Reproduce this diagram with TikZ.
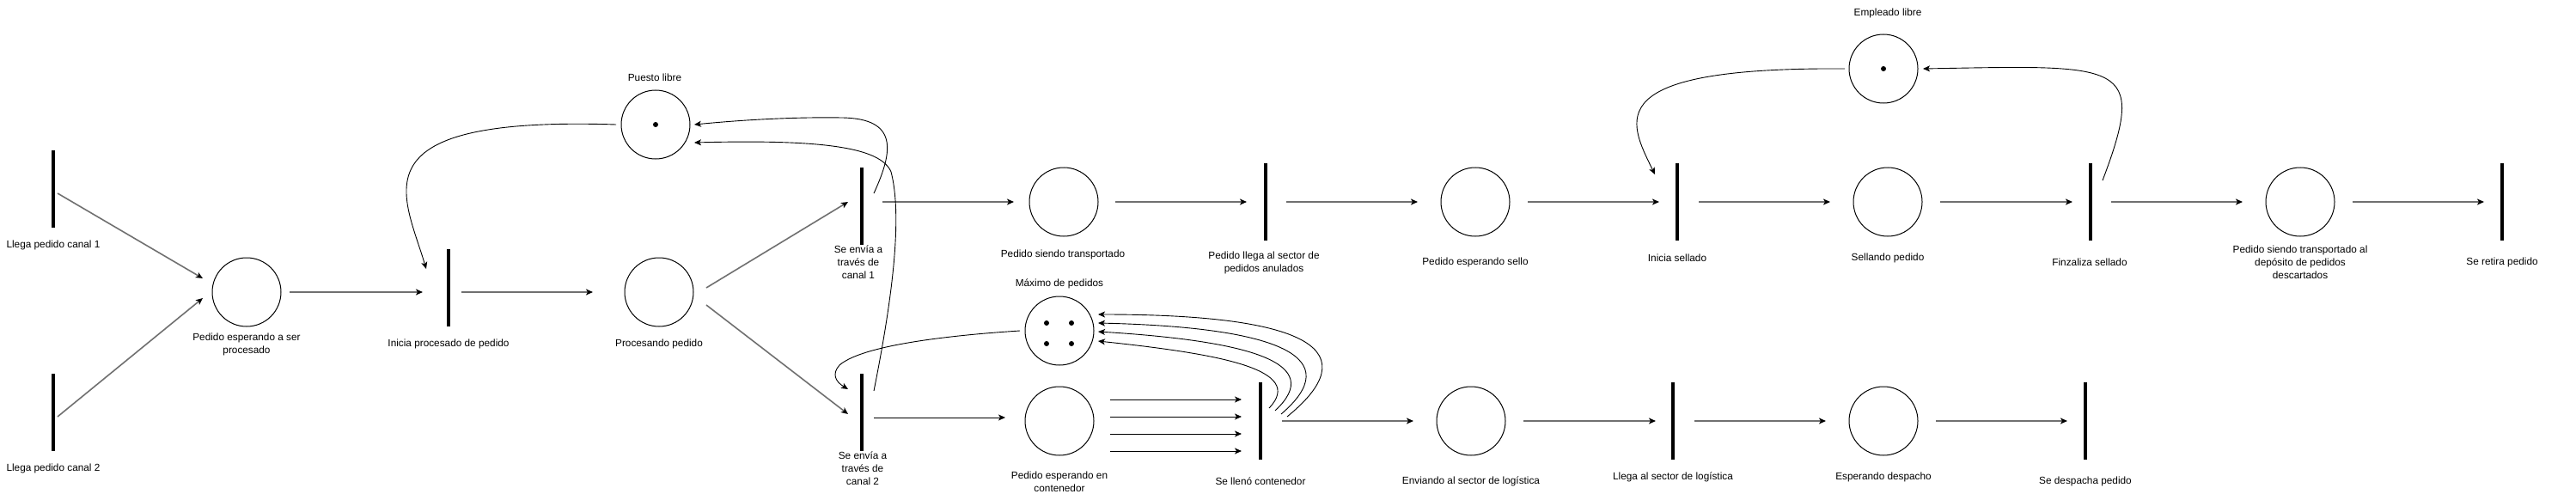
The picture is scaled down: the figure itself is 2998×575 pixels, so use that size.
\documentclass[tikz,border=0pt]{standalone}
\usepackage{fontspec}
\setmainfont{Liberation Sans}
\usetikzlibrary{arrows.meta,calc}
\definecolor{arrgray}{RGB}{112,112,112}
\begin{document}
\begin{tikzpicture}[x=1pt,y=-1pt,
  place/.style={circle,draw=black,line width=1pt,minimum size=80pt,inner sep=0pt},
  trans/.style={rectangle,fill=black,minimum width=4pt,minimum height=90pt,inner sep=0pt},
  lbl/.style={font=\fontsize{11.8}{15}\selectfont,align=center,inner sep=0pt},
  tok/.style={circle,fill=black,minimum size=6pt,inner sep=0pt},
  tip/.style={-{Stealth[length=8pt,width=7pt,inset=2pt,color=black]}},
  garrow/.style={draw=arrgray,line width=1.6pt,tip},
  barrow/.style={draw=black,line width=1pt,tip},
  carrow/.style={draw=black,line width=0.9pt,tip},
]
\useasboundingbox (0,0) rectangle (2998,575);

% places
\node[place] (pEsp)   at (287,340) {};
\node[place] (pLibre) at (763,145) {};
\node[place] (pProc)  at (767,340) {};
\node[place] (pTrans) at (1238,235) {};
\node[place] (pMax)   at (1233,385) {};
\node[place] (pCont)  at (1233,490) {};
\node[place] (pSello) at (1717,235) {};
\node[place] (pEnv)   at (1712,490) {};
\node[place] (pEmp)   at (2192,80) {};
\node[place] (pSell)  at (2197,235) {};
\node[place] (pDesp)  at (2192,490) {};
\node[place] (pDep)   at (2677,235) {};

% tokens
\node[tok] (k1) at (pLibre) {};
\node[tok] (k2) at (pEmp) {};
\node[tok] (k3) at (1218,376) {};
\node[tok] (k4) at (1247,376) {};
\node[tok] (k5) at (1218,400) {};
\node[tok] (k6) at (1247,400) {};

% transitions
\node[trans] (tC1)     at (62,220) {};
\node[trans] (tC2)     at (62,480) {};
\node[trans] (tIni)    at (522,335) {};
\node[trans] (tCan1)   at (1003,240) {};
\node[trans] (tCan2)   at (1003,480) {};
\node[trans] (tAnul)   at (1473,235) {};
\node[trans] (tLleno)  at (1467,490) {};
\node[trans] (tIniS)   at (1952,235) {};
\node[trans] (tLlegaL) at (1947,490) {};
\node[trans] (tFin)    at (2433,235) {};
\node[trans] (tRet)    at (2912,235) {};
\node[trans] (tDesp)   at (2427,490) {};

% labels
\node[lbl] (lC1)    at (62,285) {Llega pedido canal 1};
\node[lbl] (lC2)    at (62,545) {Llega pedido canal 2};
\node[lbl] (lEsp)   at (287,400.5) {Pedido esperando a ser\\procesado};
\node[lbl] (lIni)   at (522,400) {Inicia procesado de pedido};
\node[lbl] (lLibre) at (762,90) {Puesto libre};
\node[lbl] (lProc)  at (767,400) {Procesando pedido};
\node[lbl] (lCan1)  at (999,305) {Se envía a\\través de\\canal 1};
\node[lbl] (lCan2)  at (1004,545) {Se envía a\\través de\\canal 2};
\node[lbl] (lTrans) at (1237,296) {Pedido siendo transportado};
\node[lbl] (lMax)   at (1233,330) {Máximo de pedidos};
\node[lbl] (lCont)  at (1233,560.5) {Pedido esperando en\\contenedor};
\node[lbl] (lAnul)  at (1471,305.5) {Pedido llega al sector de\\pedidos anulados};
\node[lbl] (lLleno) at (1467,560) {Se llenó contenedor};
\node[lbl] (lSello) at (1717,305) {Pedido esperando sello};
\node[lbl] (lEnv)   at (1712,560) {Enviando al sector de logística};
\node[lbl] (lIniS)  at (1952,300) {Inicia sellado};
\node[lbl] (lLlegaL) at (1947,555) {Llega al sector de logística};
\node[lbl] (lEmp)   at (2197,15) {Empleado libre};
\node[lbl] (lSell)  at (2197,300) {Sellando pedido};
\node[lbl] (lDesp)  at (2192,555) {Esperando despacho};
\node[lbl] (lFin)   at (2432,305) {Finzaliza sellado};
\node[lbl] (ltDesp) at (2427,560) {Se despacha pedido};
\node[lbl] (lDep)   at (2677,305) {Pedido siendo transportado al\\depósito de pedidos\\descartados};
\node[lbl] (lRet)   at (2912,305) {Se retira pedido};

% straight gray arcs
\draw[garrow] ($(tC1)+(5,5)$) -- ($(pEsp)+(-51,-16)$);
\draw[garrow] ($(tC2)+(5,5)$) -- ($(pEsp)+(-51,7)$);
\draw[garrow] ($(pEsp)+(50,0)$) -- ($(tIni)+(-30,5)$);
\draw[garrow] ($(tIni)+(15,5)$) -- ($(pProc)+(-77,0)$);
\draw[garrow] ($(pProc)+(55,-5)$) -- ($(tCan1)+(-16,-5)$);
\draw[garrow] ($(pProc)+(55,15)$) -- ($(tCan2)+(-16,2)$);
\draw[garrow] ($(tCan1)+(24,-5)$) -- ($(pTrans)+(-58,0)$);
\draw[garrow] ($(pTrans)+(60,0)$) -- ($(tAnul)+(-22,0)$);
\draw[garrow] ($(tAnul)+(24,0)$) -- ($(pSello)+(-67,0)$);
\draw[garrow] ($(pSello)+(61,0)$) -- ($(tIniS)+(-21,0)$);
\draw[garrow] ($(tIniS)+(25,0)$) -- ($(pSell)+(-67,0)$);
\draw[garrow] ($(pSell)+(61,0)$) -- ($(tFin)+(-21,0)$);
\draw[garrow] ($(tFin)+(24,0)$) -- ($(pDep)+(-67,0)$);
\draw[garrow] ($(pDep)+(61,0)$) -- ($(tRet)+(-21,0)$);
\draw[garrow] ($(tLleno)+(25,0)$) -- ($(pEnv)+(-67,0)$);
\draw[garrow] ($(pEnv)+(61,0)$) -- ($(tLlegaL)+(-20,0)$);
\draw[garrow] ($(tLlegaL)+(25,0)$) -- ($(pDesp)+(-67,0)$);
\draw[garrow] ($(pDesp)+(61,0)$) -- ($(tDesp)+(-21,0)$);

% straight black arcs
\draw[barrow] ($(tCan2)+(14,6)$) -- ($(pCont)+(-63,-4)$);
\foreach \dy in {-25,-5,15,35}
  \draw[barrow] ($(pCont)+(59,\dy)$) -- ($(tLleno)+(-22,\dy)$);

% curved arcs
\draw[carrow] ($(pLibre)+(-46,0)$) .. controls (410,135) and (470,225) .. ($(tIni)+(-26,-22)$);
\draw[carrow] ($(tCan1)+(14,-15)$) .. controls (1040,175) and (1045,138) .. (980,137)
   .. controls (920,136) and (860,140) .. ($(pLibre)+(45,0)$);
\draw[carrow] ($(tCan2)+(14,-25)$) .. controls (1040,340) and (1050,250) .. (1037,200)
   .. controls (1025,172) and (960,162) .. ($(pLibre)+(45,21)$);
\draw[carrow] ($(pMax)+(-46,0)$) .. controls (1080,392) and (1000,405) .. (977,425)
   .. controls (968,435) and (972,444) .. ($(tCan2)+(-16,-27)$);
\draw[carrow] ($(tLleno)+(31,-5)$) .. controls (1590,410) and (1530,366) .. ($(pMax)+(45,-19)$);
\draw[carrow] ($(tLleno)+(24,-8)$) .. controls (1567,417) and (1493,381) .. ($(pMax)+(45,-9)$);
\draw[carrow] ($(tLleno)+(17,-12)$) .. controls (1543,423) and (1457,397) .. ($(pMax)+(45,1)$);
\draw[carrow] ($(tLleno)+(10,-15)$) .. controls (1520,430) and (1420,412) .. ($(pMax)+(45,12)$);
\draw[carrow] ($(pEmp)+(-45,0)$) .. controls (1860,78) and (1895,140) .. ($(tIniS)+(-26,-32)$);
\draw[carrow] ($(tFin)+(14,-25)$) .. controls (2500,70) and (2470,76) .. ($(pEmp)+(46,0)$);
\end{tikzpicture}
\end{document}
